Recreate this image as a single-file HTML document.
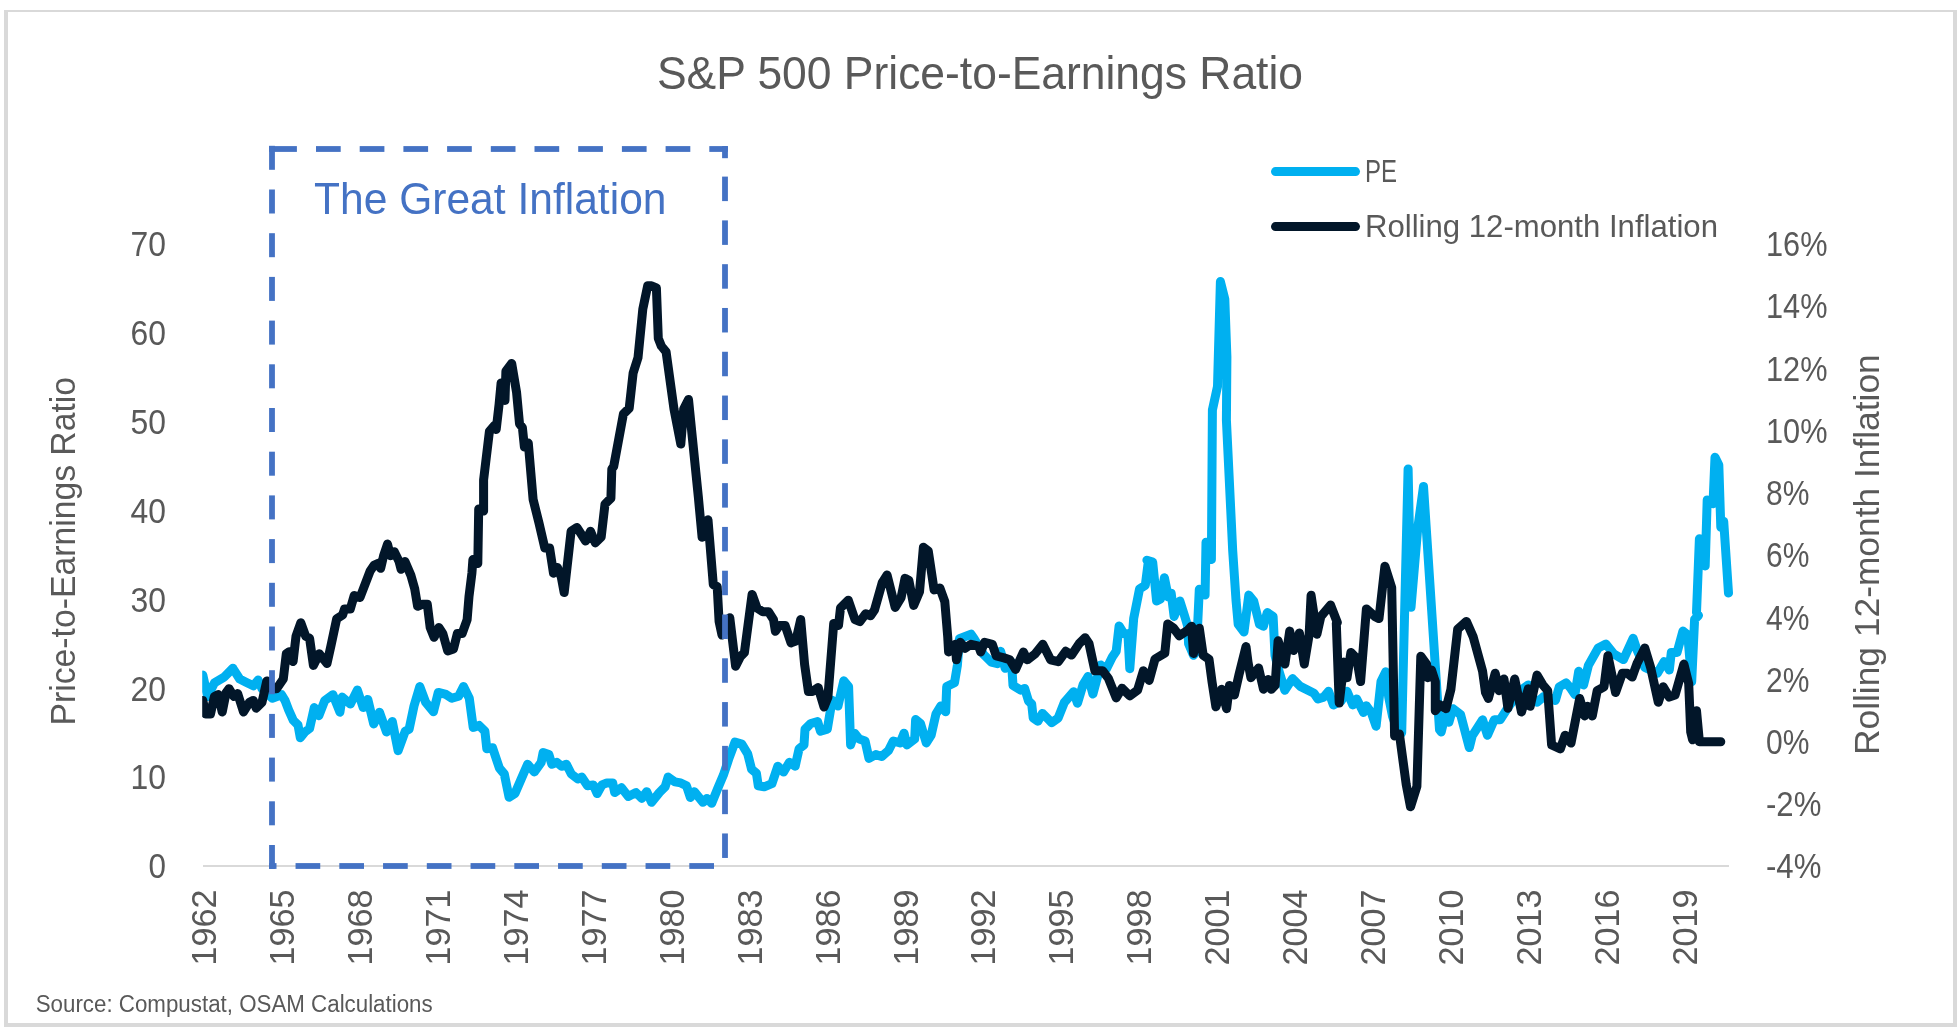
<!DOCTYPE html>
<html><head><meta charset="utf-8"><style>
html,body{margin:0;padding:0;background:#fff;}
svg{display:block;will-change:transform;}
text{font-family:"Liberation Sans",sans-serif;}
</style></head><body>
<svg width="1960" height="1030" viewBox="0 0 1960 1030">
<rect x="0" y="0" width="1960" height="1030" fill="#fff"/>
<rect x="4" y="10" width="1953" height="2" fill="#d9d9d9"/>
<rect x="4" y="10" width="4" height="1017" fill="#d9d9d9"/>
<rect x="1953" y="10" width="4" height="1017" fill="#d9d9d9"/>
<rect x="4" y="1023" width="1953" height="4" fill="#d9d9d9"/>
<text x="657" y="88.6" font-size="45.5" fill="#595959" textLength="646" lengthAdjust="spacingAndGlyphs">S&amp;P 500 Price-to-Earnings Ratio</text>
<rect x="203" y="865" width="1526" height="2" fill="#d9d9d9"/>
<text x="148.5" y="878.2" font-size="35.6" fill="#595959" textLength="17.5" lengthAdjust="spacingAndGlyphs">0</text>
<text x="130.5" y="789.4" font-size="35.6" fill="#595959" textLength="35.5" lengthAdjust="spacingAndGlyphs">10</text>
<text x="130.5" y="700.5" font-size="35.6" fill="#595959" textLength="35.5" lengthAdjust="spacingAndGlyphs">20</text>
<text x="130.5" y="611.7" font-size="35.6" fill="#595959" textLength="35.5" lengthAdjust="spacingAndGlyphs">30</text>
<text x="130.5" y="522.8" font-size="35.6" fill="#595959" textLength="35.5" lengthAdjust="spacingAndGlyphs">40</text>
<text x="130.5" y="434.0" font-size="35.6" fill="#595959" textLength="35.5" lengthAdjust="spacingAndGlyphs">50</text>
<text x="130.5" y="345.1" font-size="35.6" fill="#595959" textLength="35.5" lengthAdjust="spacingAndGlyphs">60</text>
<text x="130.5" y="256.2" font-size="35.6" fill="#595959" textLength="35.5" lengthAdjust="spacingAndGlyphs">70</text>
<text x="1766" y="878.2" font-size="35.6" fill="#595959" textLength="55.4" lengthAdjust="spacingAndGlyphs">-4%</text>
<text x="1766" y="816.0" font-size="35.6" fill="#595959" textLength="55.4" lengthAdjust="spacingAndGlyphs">-2%</text>
<text x="1766" y="753.9" font-size="35.6" fill="#595959" textLength="43.4" lengthAdjust="spacingAndGlyphs">0%</text>
<text x="1766" y="691.6" font-size="35.6" fill="#595959" textLength="43.4" lengthAdjust="spacingAndGlyphs">2%</text>
<text x="1766" y="629.5" font-size="35.6" fill="#595959" textLength="43.4" lengthAdjust="spacingAndGlyphs">4%</text>
<text x="1766" y="567.2" font-size="35.6" fill="#595959" textLength="43.4" lengthAdjust="spacingAndGlyphs">6%</text>
<text x="1766" y="505.0" font-size="35.6" fill="#595959" textLength="43.4" lengthAdjust="spacingAndGlyphs">8%</text>
<text x="1766" y="442.8" font-size="35.6" fill="#595959" textLength="61.5" lengthAdjust="spacingAndGlyphs">10%</text>
<text x="1766" y="380.6" font-size="35.6" fill="#595959" textLength="61.5" lengthAdjust="spacingAndGlyphs">12%</text>
<text x="1766" y="318.4" font-size="35.6" fill="#595959" textLength="61.5" lengthAdjust="spacingAndGlyphs">14%</text>
<text x="1766" y="256.2" font-size="35.6" fill="#595959" textLength="61.5" lengthAdjust="spacingAndGlyphs">16%</text>
<text transform="translate(216.2 889.5) rotate(-90)" x="-76" y="0" font-size="35.6" fill="#595959" textLength="76" lengthAdjust="spacingAndGlyphs">1962</text>
<text transform="translate(294.1 889.5) rotate(-90)" x="-76" y="0" font-size="35.6" fill="#595959" textLength="76" lengthAdjust="spacingAndGlyphs">1965</text>
<text transform="translate(372.0 889.5) rotate(-90)" x="-76" y="0" font-size="35.6" fill="#595959" textLength="76" lengthAdjust="spacingAndGlyphs">1968</text>
<text transform="translate(450.0 889.5) rotate(-90)" x="-76" y="0" font-size="35.6" fill="#595959" textLength="76" lengthAdjust="spacingAndGlyphs">1971</text>
<text transform="translate(527.9 889.5) rotate(-90)" x="-76" y="0" font-size="35.6" fill="#595959" textLength="76" lengthAdjust="spacingAndGlyphs">1974</text>
<text transform="translate(605.8 889.5) rotate(-90)" x="-76" y="0" font-size="35.6" fill="#595959" textLength="76" lengthAdjust="spacingAndGlyphs">1977</text>
<text transform="translate(683.7 889.5) rotate(-90)" x="-76" y="0" font-size="35.6" fill="#595959" textLength="76" lengthAdjust="spacingAndGlyphs">1980</text>
<text transform="translate(761.6 889.5) rotate(-90)" x="-76" y="0" font-size="35.6" fill="#595959" textLength="76" lengthAdjust="spacingAndGlyphs">1983</text>
<text transform="translate(839.6 889.5) rotate(-90)" x="-76" y="0" font-size="35.6" fill="#595959" textLength="76" lengthAdjust="spacingAndGlyphs">1986</text>
<text transform="translate(917.5 889.5) rotate(-90)" x="-76" y="0" font-size="35.6" fill="#595959" textLength="76" lengthAdjust="spacingAndGlyphs">1989</text>
<text transform="translate(995.4 889.5) rotate(-90)" x="-76" y="0" font-size="35.6" fill="#595959" textLength="76" lengthAdjust="spacingAndGlyphs">1992</text>
<text transform="translate(1073.3 889.5) rotate(-90)" x="-76" y="0" font-size="35.6" fill="#595959" textLength="76" lengthAdjust="spacingAndGlyphs">1995</text>
<text transform="translate(1151.2 889.5) rotate(-90)" x="-76" y="0" font-size="35.6" fill="#595959" textLength="76" lengthAdjust="spacingAndGlyphs">1998</text>
<text transform="translate(1229.2 889.5) rotate(-90)" x="-76" y="0" font-size="35.6" fill="#595959" textLength="76" lengthAdjust="spacingAndGlyphs">2001</text>
<text transform="translate(1307.1 889.5) rotate(-90)" x="-76" y="0" font-size="35.6" fill="#595959" textLength="76" lengthAdjust="spacingAndGlyphs">2004</text>
<text transform="translate(1385.0 889.5) rotate(-90)" x="-76" y="0" font-size="35.6" fill="#595959" textLength="76" lengthAdjust="spacingAndGlyphs">2007</text>
<text transform="translate(1462.9 889.5) rotate(-90)" x="-76" y="0" font-size="35.6" fill="#595959" textLength="76" lengthAdjust="spacingAndGlyphs">2010</text>
<text transform="translate(1540.8 889.5) rotate(-90)" x="-76" y="0" font-size="35.6" fill="#595959" textLength="76" lengthAdjust="spacingAndGlyphs">2013</text>
<text transform="translate(1618.8 889.5) rotate(-90)" x="-76" y="0" font-size="35.6" fill="#595959" textLength="76" lengthAdjust="spacingAndGlyphs">2016</text>
<text transform="translate(1696.7 889.5) rotate(-90)" x="-76" y="0" font-size="35.6" fill="#595959" textLength="76" lengthAdjust="spacingAndGlyphs">2019</text>
<text transform="translate(74.5 725.5) rotate(-90)" x="0" y="0" font-size="34.9" fill="#595959" textLength="348.6" lengthAdjust="spacingAndGlyphs">Price-to-Earnings Ratio</text>
<text transform="translate(1878.5 755) rotate(-90)" x="0" y="0" font-size="34.9" fill="#595959" textLength="400.7" lengthAdjust="spacingAndGlyphs">Rolling 12-month Inflation</text>
<text x="35.7" y="1012" font-size="23.3" fill="#595959" textLength="397" lengthAdjust="spacingAndGlyphs">Source: Compustat, OSAM Calculations</text>
<line x1="1275.5" y1="171.6" x2="1355.5" y2="171.6" stroke="#00b0f0" stroke-width="9" stroke-linecap="round"/>
<line x1="1275.5" y1="226.6" x2="1355.5" y2="226.6" stroke="#021629" stroke-width="9" stroke-linecap="round"/>
<text x="1365" y="182.1" font-size="30.5" fill="#595959" textLength="32" lengthAdjust="spacingAndGlyphs">PE</text>
<text x="1365" y="236.7" font-size="30.5" fill="#595959" textLength="353" lengthAdjust="spacingAndGlyphs">Rolling 12-month Inflation</text>
<clipPath id="cp"><rect x="202.2" y="0" width="1758" height="1030"/></clipPath><g clip-path="url(#cp)">
<path d="M202.8 675.1 L207.6 696.5 L214.4 682.9 L224.1 677.1 L232.9 668.3 L239.7 679.0 L245.5 681.9 L253.3 685.8 L258.1 680.0 L262.0 688.7 L272.3 698.2 L281.6 694.7 L285.1 700.6 L288.6 709.9 L293.3 720.4 L298.0 725.0 L300.3 737.8 L304.9 732.0 L309.6 728.5 L314.3 707.6 L318.9 715.7 L324.7 700.6 L332.9 694.7 L339.9 712.2 L342.2 697.1 L350.4 704.1 L357.4 690.1 L363.2 707.6 L367.8 699.4 L373.7 723.9 L379.5 712.2 L386.5 732.0 L392.3 721.5 L398.1 750.7 L405.2 731.3 L405.2 731.3 L409.1 729.3 L414.0 706.0 L419.8 686.6 L425.6 702.1 L433.4 711.8 L438.3 692.4 L446.0 694.4 L451.8 698.3 L458.6 696.3 L463.5 686.6 L469.3 698.3 L473.2 727.4 L479.0 725.4 L484.9 731.3 L486.8 748.7 L492.6 747.8 L499.4 768.2 L504.3 774.0 L509.1 797.3 L515.0 793.4 L521.7 777.9 L527.6 764.3 L534.4 772.0 L541.2 762.3 L543.1 752.6 L548.9 754.6 L551.8 764.3 L556.7 762.3 L561.6 766.2 L566.4 764.3 L571.3 774.0 L577.8 779.0 L581.7 777.1 L587.5 785.8 L593.3 784.9 L597.2 793.6 L602.0 784.9 L606.9 782.9 L612.7 782.9 L614.7 792.6 L621.5 787.8 L628.3 796.5 L636.0 792.6 L641.8 798.4 L646.7 791.7 L651.6 802.3 L659.3 792.6 L665.1 786.8 L668.1 777.1 L674.9 781.9 L680.7 782.9 L686.5 785.8 L690.4 797.5 L694.3 791.7 L703.0 802.3 L706.9 798.4 L711.7 803.3 L717.6 788.7 L723.4 775.1 L729.2 757.7 L735.0 742.1 L741.8 744.1 L747.7 753.8 L751.6 769.3 L756.4 773.2 L758.3 785.8 L764.2 786.8 L771.9 783.7 L777.8 766.2 L783.6 772.0 L789.4 762.3 L795.2 766.2 L799.1 748.7 L804.0 744.9 L805.0 729.3 L810.8 723.5 L817.6 721.6 L820.5 731.3 L827.3 729.3 L832.1 700.2 L838.0 706.0 L843.8 680.8 L848.6 686.6 L850.6 744.9 L854.5 733.2 L859.3 739.0 L865.1 741.0 L869.0 758.4 L875.8 754.6 L881.7 756.5 L888.4 750.7 L893.3 741.0 L900.1 742.9 L904.0 733.2 L906.9 744.9 L914.7 739.0 L915.6 719.6 L920.5 723.5 L926.3 742.9 L931.2 735.1 L936.0 713.8 L940.9 706.0 L945.7 711.8 L946.7 686.6 L954.5 682.7 L957.4 665.2 L959.4 638.8 L971.1 634.2 L974.2 638.8 L983.5 654.4 L991.3 662.1 L997.5 663.7 L1000.6 651.3 L1005.2 668.3 L1011.5 662.1 L1013.0 685.4 L1020.8 690.1 L1024.7 688.5 L1028.5 701.0 L1031.7 704.1 L1033.2 718.1 L1037.9 721.2 L1042.5 713.4 L1048.7 719.6 L1051.8 722.7 L1058.1 718.1 L1064.3 702.5 L1073.6 691.7 L1077.5 703.3 L1083.2 684.3 L1083.2 684.3 L1088.1 676.5 L1092.9 694.0 L1100.7 664.9 L1106.5 668.7 L1112.3 657.1 L1116.2 651.3 L1119.1 626.0 L1124.0 633.8 L1127.9 633.8 L1129.8 668.7 L1133.7 618.3 L1139.5 589.1 L1145.3 585.2 L1148.3 561.9 L1146.9 560.2 L1152.7 562.1 L1156.6 601.0 L1160.5 599.0 L1164.4 577.7 L1168.3 597.1 L1171.2 593.2 L1174.1 616.5 L1179.9 601.0 L1184.8 616.5 L1187.7 626.2 L1188.6 643.7 L1193.5 655.3 L1196.4 651.5 L1199.3 589.3 L1205.1 595.1 L1206.0 542.3 L1211.4 559.4 L1212.4 410.0 L1217.5 386.5 L1220.4 281.6 L1224.8 299.0 L1226.9 357.0 L1226.4 420.0 L1232.7 550.8 L1236.0 600.0 L1238.2 624.3 L1244.0 632.0 L1248.8 595.1 L1253.7 601.0 L1259.5 624.3 L1263.4 626.2 L1267.3 612.6 L1273.1 616.5 L1275.0 655.3 L1278.9 670.9 L1284.8 690.3 L1292.5 678.6 L1300.3 686.4 L1314.0 693.2 L1317.9 699.0 L1323.7 697.1 L1328.5 691.3 L1333.4 704.9 L1341.2 701.0 L1347.0 691.3 L1352.8 704.9 L1356.7 699.0 L1363.5 712.6 L1366.4 705.8 L1371.3 712.6 L1376.1 726.2 L1381.0 681.6 L1385.8 671.8 L1388.7 697.1 L1392.6 716.5 L1399.4 735.9 L1401.7 732.6 L1408.1 468.9 L1411.0 607.3 L1417.7 528.6 L1423.5 486.4 L1439.5 729.6 L1441.2 732.0 L1445.0 716.5 L1448.9 722.3 L1452.8 708.7 L1460.6 714.6 L1469.3 747.6 L1472.2 735.9 L1482.6 719.8 L1487.5 735.3 L1494.3 719.8 L1500.1 719.8 L1508.8 706.2 L1520.5 690.7 L1528.3 684.9 L1532.1 696.5 L1537.0 702.3 L1543.8 696.5 L1549.6 698.4 L1555.4 700.4 L1559.3 686.8 L1566.1 682.9 L1571.0 688.7 L1574.9 694.6 L1578.7 671.3 L1583.6 684.9 L1588.4 665.4 L1598.2 648.0 L1605.9 644.1 L1613.7 653.8 L1623.4 659.6 L1633.1 638.3 L1637.0 649.9 L1644.8 667.4 L1657.4 673.2 L1664.2 661.6 L1665.4 662.1 L1669.3 669.9 L1671.3 652.4 L1677.1 652.4 L1682.9 631.1 L1687.8 635.0 L1691.7 681.6 L1694.6 619.4 L1698.4 615.5 L1696.5 612.5 L1699.4 538.7 L1705.2 565.9 L1707.2 499.9 L1713.0 503.8 L1715.0 457.2 L1718.8 465.0 L1720.8 527.1 L1723.7 521.3 L1728.5 593.1" fill="none" stroke="#00b0f0" stroke-width="9" stroke-linejoin="round" stroke-linecap="round"/>
<path d="M202.8 700.4 L205.7 714.0 L210.5 714.0 L214.4 696.5 L218.3 694.6 L222.2 712.0 L226.1 692.6 L229.0 688.7 L233.8 696.5 L237.7 693.6 L243.5 712.0 L249.4 702.3 L253.3 700.4 L256.2 708.2 L262.0 702.3 L266.8 681.0 L272.7 688.7 L276.6 688.7 L283.3 679.0 L286.3 653.8 L289.2 651.8 L293.1 661.6 L296.0 636.3 L300.8 622.7 L305.7 636.3 L309.6 638.3 L313.4 665.4 L319.3 653.8 L327.0 663.5 L330.9 646.0 L336.7 618.8 L342.6 615.0 L344.5 609.1 L350.3 609.1 L354.2 595.5 L360.0 597.5 L370.0 571.3 L373.9 565.4 L377.8 563.5 L380.7 568.3 L383.6 555.7 L387.5 544.1 L390.4 555.7 L394.3 551.8 L399.1 561.6 L401.1 569.3 L405.0 561.6 L410.8 575.1 L414.7 588.7 L417.6 606.2 L422.4 604.3 L427.3 604.3 L430.2 627.6 L434.1 637.3 L438.9 627.6 L442.8 633.4 L447.7 650.9 L453.5 648.9 L457.4 633.4 L462.2 633.4 L467.1 619.8 L469.0 596.5 L471.9 573.2 L472.9 559.6 L477.8 563.5 L478.7 509.1 L483.6 511.1 L483.6 480.0 L489.4 431.5 L494.3 425.6 L496.2 429.5 L499.1 404.3 L501.1 382.9 L505.0 400.4 L505.9 371.3 L511.7 363.5 L516.6 392.6 L519.5 423.7 L522.4 427.6 L524.4 447.0 L528.3 443.1 L533.1 499.4 L538.9 522.7 L544.8 548.0 L549.6 548.0 L553.5 573.2 L557.4 567.4 L561.3 577.1 L564.2 592.6 L571.1 531.3 L576.9 527.4 L585.6 541.0 L590.5 531.3 L595.3 542.9 L601.2 537.1 L605.0 504.1 L610.9 498.3 L611.8 469.1 L613.7 466.4 L623.4 414.0 L629.2 408.2 L633.1 373.2 L638.0 357.7 L642.8 309.1 L647.7 285.8 L651.6 285.8 L656.4 287.8 L658.3 338.3 L661.3 346.0 L666.1 351.8 L674.0 409.1 L680.8 444.1 L683.7 409.1 L688.5 399.4 L692.4 438.3 L698.3 496.5 L702.1 537.3 L708.0 519.8 L713.3 584.7 L717.2 586.6 L719.1 621.6 L722.0 635.1 L729.8 617.7 L735.6 666.2 L740.5 656.5 L744.4 652.6 L752.1 594.4 L757.0 608.0 L762.8 611.8 L768.6 611.8 L773.5 619.6 L775.4 631.3 L779.3 625.4 L785.1 625.4 L791.0 642.9 L795.8 641.0 L800.7 619.6 L804.6 664.3 L808.4 691.5 L812.3 691.5 L818.2 687.6 L824.0 707.0 L827.9 697.3 L833.7 623.5 L838.5 625.4 L840.5 608.0 L848.3 600.2 L855.0 619.6 L859.9 621.6 L865.7 613.8 L870.6 615.7 L874.5 609.9 L882.2 582.7 L887.1 575.0 L895.2 607.4 L901.1 597.7 L905.0 578.3 L908.8 580.2 L913.7 605.4 L919.5 591.8 L923.4 547.2 L928.3 551.1 L934.1 589.9 L939.9 588.0 L944.8 601.6 L947.7 636.5 L948.6 652.0 L955.4 644.3 L956.4 659.8 L960.3 642.3 L965.1 648.2 L971.0 644.3 L978.7 646.2 L980.7 652.0 L984.6 642.3 L992.3 644.3 L996.2 655.9 L1004.0 657.9 L1009.8 659.8 L1015.6 669.5 L1023.4 652.0 L1027.3 659.8 L1035.0 654.0 L1042.8 644.3 L1050.6 659.8 L1058.3 661.7 L1065.7 651.3 L1071.6 655.1 L1079.3 643.5 L1085.1 637.7 L1089.0 643.5 L1094.9 670.7 L1102.6 670.7 L1108.4 678.4 L1116.2 697.9 L1122.0 688.2 L1129.8 695.9 L1137.6 690.1 L1143.4 670.7 L1149.2 680.4 L1155.0 659.0 L1164.8 653.2 L1167.7 624.1 L1173.5 628.0 L1179.3 635.7 L1188.1 629.9 L1191.6 626.2 L1193.5 653.4 L1199.3 628.2 L1203.2 655.3 L1209.0 659.2 L1212.0 681.6 L1215.9 706.8 L1221.7 689.3 L1226.6 708.7 L1229.5 685.4 L1234.4 695.1 L1239.2 673.8 L1246.0 646.6 L1248.0 662.1 L1250.9 677.7 L1258.6 668.0 L1263.5 689.3 L1268.3 679.6 L1271.3 689.3 L1275.1 685.4 L1278.1 640.8 L1284.9 664.1 L1289.7 631.1 L1293.6 650.5 L1299.4 633.0 L1304.3 664.1 L1309.1 635.0 L1311.1 595.3 L1316.9 634.2 L1320.8 616.7 L1330.5 605.0 L1337.3 622.5 L1336.3 623.3 L1339.2 702.9 L1344.1 662.1 L1347.0 677.7 L1350.9 652.4 L1356.7 658.3 L1360.6 681.6 L1366.4 608.9 L1375.1 616.7 L1379.0 618.6 L1384.9 566.2 L1391.7 587.6 L1394.6 735.9 L1399.4 734.0 L1406.2 784.5 L1410.5 806.8 L1416.9 786.4 L1420.8 656.3 L1426.6 664.1 L1427.6 677.7 L1431.5 669.9 L1435.3 681.6 L1435.3 710.7 L1440.2 704.9 L1446.0 708.7 L1450.9 689.3 L1457.7 629.1 L1466.4 621.4 L1473.2 636.9 L1482.6 671.3 L1485.5 692.6 L1488.4 698.4 L1495.2 673.2 L1499.1 690.7 L1504.0 679.0 L1507.9 708.2 L1514.7 679.0 L1521.5 712.0 L1528.3 688.7 L1530.2 706.2 L1537.0 675.1 L1542.8 684.9 L1547.7 690.7 L1551.6 745.0 L1560.3 748.9 L1565.1 735.3 L1571.0 743.1 L1579.7 698.4 L1584.6 715.9 L1587.5 706.2 L1592.3 715.9 L1597.2 690.7 L1604.0 686.8 L1607.9 655.7 L1615.6 692.6 L1622.4 673.2 L1627.3 673.2 L1632.1 677.1 L1637.0 663.5 L1644.8 648.0 L1650.6 667.4 L1658.3 702.3 L1663.2 686.8 L1669.3 697.1 L1675.1 695.1 L1683.9 664.1 L1688.7 683.5 L1690.7 732.0 L1692.6 739.8 L1696.5 710.7 L1699.4 741.7 L1720.8 741.7" fill="none" stroke="#021629" stroke-width="9" stroke-linejoin="round" stroke-linecap="round"/>
</g>
<rect x="269.10" y="146.10" width="27.80" height="5.8" fill="#4472c4"/>
<rect x="316.00" y="146.10" width="24.70" height="5.8" fill="#4472c4"/>
<rect x="359.70" y="146.10" width="24.70" height="5.8" fill="#4472c4"/>
<rect x="403.40" y="146.10" width="24.70" height="5.8" fill="#4472c4"/>
<rect x="447.10" y="146.10" width="24.70" height="5.8" fill="#4472c4"/>
<rect x="490.80" y="146.10" width="24.70" height="5.8" fill="#4472c4"/>
<rect x="534.50" y="146.10" width="24.70" height="5.8" fill="#4472c4"/>
<rect x="578.20" y="146.10" width="24.70" height="5.8" fill="#4472c4"/>
<rect x="621.90" y="146.10" width="24.70" height="5.8" fill="#4472c4"/>
<rect x="665.60" y="146.10" width="24.70" height="5.8" fill="#4472c4"/>
<rect x="709.30" y="146.10" width="18.60" height="5.8" fill="#4472c4"/>
<rect x="722.10" y="146.10" width="5.8" height="12.10" fill="#4472c4"/>
<rect x="722.10" y="176.60" width="5.8" height="24.50" fill="#4472c4"/>
<rect x="722.10" y="220.39" width="5.8" height="24.50" fill="#4472c4"/>
<rect x="722.10" y="264.18" width="5.8" height="24.50" fill="#4472c4"/>
<rect x="722.10" y="307.97" width="5.8" height="24.50" fill="#4472c4"/>
<rect x="722.10" y="351.76" width="5.8" height="24.50" fill="#4472c4"/>
<rect x="722.10" y="395.55" width="5.8" height="24.50" fill="#4472c4"/>
<rect x="722.10" y="439.34" width="5.8" height="24.50" fill="#4472c4"/>
<rect x="722.10" y="483.13" width="5.8" height="24.50" fill="#4472c4"/>
<rect x="722.10" y="526.92" width="5.8" height="24.50" fill="#4472c4"/>
<rect x="722.10" y="570.71" width="5.8" height="24.50" fill="#4472c4"/>
<rect x="722.10" y="614.50" width="5.8" height="24.50" fill="#4472c4"/>
<rect x="722.10" y="658.29" width="5.8" height="24.50" fill="#4472c4"/>
<rect x="722.10" y="702.08" width="5.8" height="24.50" fill="#4472c4"/>
<rect x="722.10" y="745.87" width="5.8" height="24.50" fill="#4472c4"/>
<rect x="722.10" y="789.66" width="5.8" height="24.50" fill="#4472c4"/>
<rect x="722.10" y="833.45" width="5.8" height="24.50" fill="#4472c4"/>
<rect x="689.30" y="863.10" width="24.70" height="5.8" fill="#4472c4"/>
<rect x="645.55" y="863.10" width="24.70" height="5.8" fill="#4472c4"/>
<rect x="601.80" y="863.10" width="24.70" height="5.8" fill="#4472c4"/>
<rect x="558.05" y="863.10" width="24.70" height="5.8" fill="#4472c4"/>
<rect x="514.30" y="863.10" width="24.70" height="5.8" fill="#4472c4"/>
<rect x="470.55" y="863.10" width="24.70" height="5.8" fill="#4472c4"/>
<rect x="426.80" y="863.10" width="24.70" height="5.8" fill="#4472c4"/>
<rect x="383.05" y="863.10" width="24.70" height="5.8" fill="#4472c4"/>
<rect x="339.30" y="863.10" width="24.70" height="5.8" fill="#4472c4"/>
<rect x="295.55" y="863.10" width="24.70" height="5.8" fill="#4472c4"/>
<rect x="269.10" y="863.10" width="7.40" height="5.8" fill="#4472c4"/>
<rect x="269.10" y="845.00" width="5.8" height="24.00" fill="#4472c4"/>
<rect x="269.10" y="801.30" width="5.8" height="24.00" fill="#4472c4"/>
<rect x="269.10" y="757.60" width="5.8" height="24.00" fill="#4472c4"/>
<rect x="269.10" y="713.90" width="5.8" height="24.00" fill="#4472c4"/>
<rect x="269.10" y="670.20" width="5.8" height="24.00" fill="#4472c4"/>
<rect x="269.10" y="626.50" width="5.8" height="24.00" fill="#4472c4"/>
<rect x="269.10" y="582.80" width="5.8" height="24.00" fill="#4472c4"/>
<rect x="269.10" y="539.10" width="5.8" height="24.00" fill="#4472c4"/>
<rect x="269.10" y="495.40" width="5.8" height="24.00" fill="#4472c4"/>
<rect x="269.10" y="451.70" width="5.8" height="24.00" fill="#4472c4"/>
<rect x="269.10" y="408.00" width="5.8" height="24.00" fill="#4472c4"/>
<rect x="269.10" y="364.30" width="5.8" height="24.00" fill="#4472c4"/>
<rect x="269.10" y="320.60" width="5.8" height="24.00" fill="#4472c4"/>
<rect x="269.10" y="276.90" width="5.8" height="24.00" fill="#4472c4"/>
<rect x="269.10" y="233.20" width="5.8" height="24.00" fill="#4472c4"/>
<rect x="269.10" y="189.50" width="5.8" height="24.00" fill="#4472c4"/>
<rect x="269.10" y="145.80" width="5.8" height="24.00" fill="#4472c4"/>
<text x="314" y="213.8" font-size="44.2" fill="#4472c4" textLength="352.5" lengthAdjust="spacingAndGlyphs">The Great Inflation</text>
</svg>
</body></html>
